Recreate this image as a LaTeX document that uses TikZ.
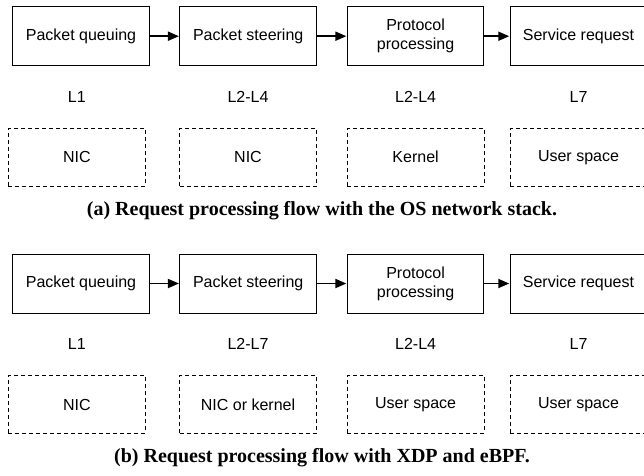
\documentclass[tikz,border=0pt]{standalone}
\usepackage{fontspec}
\setmainfont{Liberation Sans}
\newfontfamily\capfont{Liberation Serif}
\usetikzlibrary{arrows.meta}
\begin{document}
\begin{tikzpicture}[x=1pt,y=-1pt,
  stage/.style={draw, line width=0.9pt, minimum width=136.6pt, minimum height=59pt,
    inner sep=0pt, align=center, font=\fontsize{16}{19}\selectfont},
  place/.style={draw, dashed, dash pattern=on 4pt off 3pt, line width=0.8pt,
    minimum width=137pt, minimum height=57.7pt, inner sep=0pt,
    font=\fontsize{16}{19}\selectfont},
  layer/.style={inner sep=0pt, font=\fontsize{16}{19}\selectfont},
  flow/.style={-{Triangle[length=11pt,width=9pt]}, line width=1.8pt, shorten >=0.5pt},
  caption/.style={inner sep=0pt, font=\capfont\bfseries\fontsize{20}{24}\selectfont}]
\useasboundingbox (0,0) rectangle (644,475);
\clip (0,0) rectangle (644,475);

% (a) OS network stack
\node[stage] (a1) at (81,36.2) {Packet queuing};
\node[stage] (a2) at (248.2,36.2) {Packet steering};
\node[stage] (a3) at (415.6,36.2) {Protocol\\processing};
\node[stage] (a4) at (578.5,36.2) {Service request};
\draw[flow] (a1) -- (a2);
\draw[flow] (a2) -- (a3);
\draw[flow] (a3) -- (a4);
\node[layer] (la1) at (76.8,97) {L1};
\node[layer] (la2) at (248,97) {L2-L4};
\node[layer] (la3) at (415.6,97) {L2-L4};
\node[layer] (la4) at (578.5,97) {L7};
\node[place] (pa1) at (76.8,157.2) {NIC};
\node[place] (pa2) at (248,157.2) {NIC};
\node[place] (pa3) at (415.6,157.2) {Kernel};
\node[place] (pa4) at (578.5,157.2) {User space};
\node[caption] (capa) at (322,211) {(a) Request processing flow with the OS network stack.};

% (b) XDP and eBPF
\node[stage] (b1) at (81,283.5) {Packet queuing};
\node[stage] (b2) at (248.2,283.5) {Packet steering};
\node[stage] (b3) at (415.6,283.5) {Protocol\\processing};
\node[stage] (b4) at (578.5,283.5) {Service request};
\draw[flow] (b1) -- (b2);
\draw[flow] (b2) -- (b3);
\draw[flow] (b3) -- (b4);
\node[layer] (lb1) at (76.8,344.3) {L1};
\node[layer] (lb2) at (248,344.3) {L2-L7};
\node[layer] (lb3) at (415.6,344.3) {L2-L4};
\node[layer] (lb4) at (578.5,344.3) {L7};
\node[place] (pb1) at (76.8,404.5) {NIC};
\node[place] (pb2) at (248,404.5) {NIC or kernel};
\node[place] (pb3) at (415.6,404.5) {User space};
\node[place] (pb4) at (578.5,404.5) {User space};
\node[caption] (capb) at (322,458) {(b) Request processing flow with XDP and eBPF.};
\end{tikzpicture}
\end{document}
